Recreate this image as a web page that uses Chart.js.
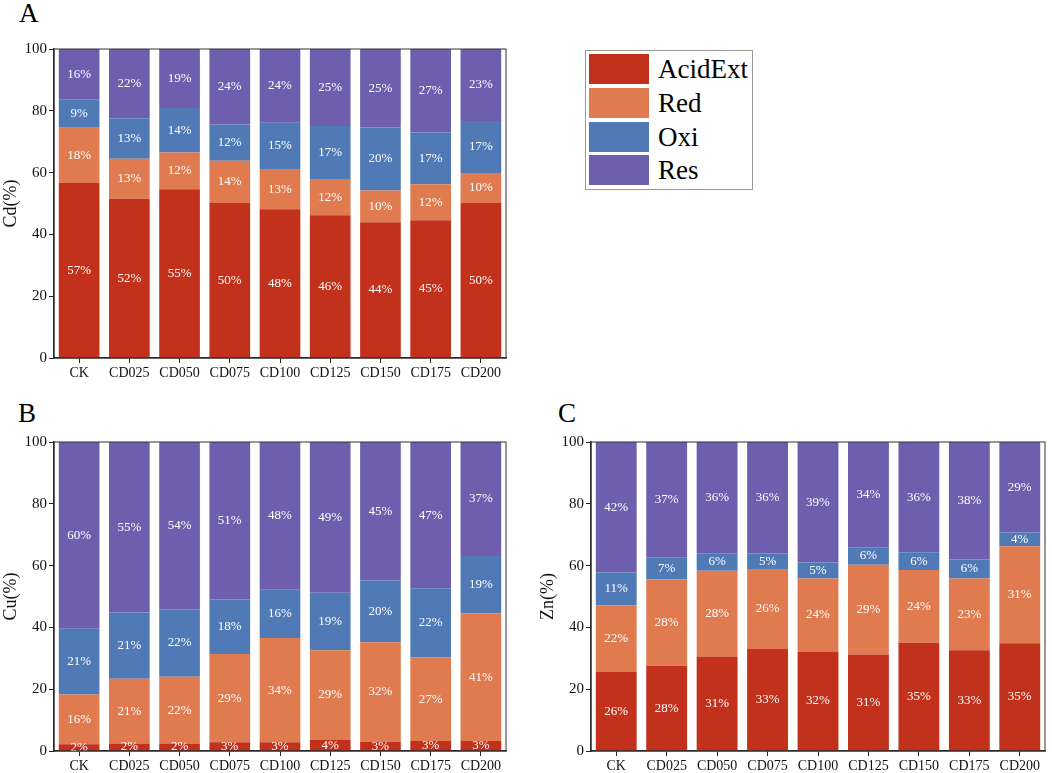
<!DOCTYPE html>
<html>
<head>
<meta charset="utf-8">
<script src="https://cdn.jsdelivr.net/npm/chart.js@4.4.1/dist/chart.umd.min.js"></script>
<style>
body { margin: 0; background: #fff; width: 1052px; height: 773px; position: relative; overflow: hidden; font-family: "Liberation Serif", "Times New Roman", serif; }
.panel { position: absolute; }
.letter { position: absolute; font-size: 27px; line-height: 27px; color: #000; }
#legend { position: absolute; left: 585px; top: 50px; width: 166px; height: 138px; border: 1px solid #999; box-sizing: content-box; }
.row { position: absolute; left: 3px; height: 30px; }
.swatch { position: absolute; left: 0; top: 0; width: 60px; height: 30px; }
.name { position: absolute; left: 69px; top: -1px; font-size: 27px; line-height: 32px; white-space: nowrap; }
</style>
</head>
<body>
<div class="letter" style="left:19px;top:0px">A</div>
<div class="letter" style="left:18px;top:400px">B</div>
<div class="letter" style="left:558px;top:400px">C</div>
<div class="panel" style="left:0;top:0;width:530px;height:390px"><canvas id="cd"></canvas></div>
<div class="panel" style="left:0;top:390px;width:530px;height:383px"><canvas id="cu"></canvas></div>
<div class="panel" style="left:525px;top:390px;width:527px;height:383px"><canvas id="zn"></canvas></div>
<div id="legend"></div>
<script>
const categories = ["CK", "CD025", "CD050", "CD075", "CD100", "CD125", "CD150", "CD175", "CD200"];
const fractions = ["AcidExt", "Red", "Oxi", "Res"];
const colors = ["#c1311b", "#df7b4f", "#4f7ab6", "#6d5eae"];
const yTicks = [0, 20, 40, 60, 80, 100];

// Cd (%)
const cdAcidExt = [56.6, 51.5, 54.6, 50.2, 48.1, 46.2, 43.9, 44.6, 50.2];
const cdRed     = [17.9, 13.0, 11.9, 13.6, 13.1, 11.7, 10.3, 11.6, 9.7];
const cdOxi     = [9.2, 13.1, 14.4, 11.8, 14.9, 17.2, 20.4, 16.8, 16.8];
const cdRes     = [16.3, 22.4, 19.1, 24.4, 23.9, 24.9, 25.4, 27.0, 23.3];

// Cu (%)
const cuAcidExt = [2.2, 2.4, 2.4, 2.8, 2.8, 3.6, 3.0, 3.2, 3.2];
const cuRed     = [16.1, 21.0, 21.6, 28.6, 33.8, 29.0, 32.2, 27.1, 41.3];
const cuOxi     = [21.3, 21.4, 21.9, 17.6, 15.6, 18.6, 20.0, 22.4, 18.6];
const cuRes     = [60.4, 55.2, 54.1, 51.0, 47.8, 48.8, 44.8, 47.3, 36.9];

// Zn (%)
const znAcidExt = [25.6, 27.6, 30.6, 33.0, 32.2, 31.2, 35.0, 32.6, 34.9];
const znRed     = [21.6, 28.0, 27.7, 25.9, 23.6, 29.1, 23.6, 23.2, 31.4];
const znOxi     = [10.6, 7.1, 5.7, 5.0, 5.2, 5.6, 5.7, 6.2, 4.4];
const znRes     = [42.2, 37.3, 36.0, 36.1, 39.0, 34.1, 35.7, 38.0, 29.3];

const serif = '"Liberation Serif", "Times New Roman", serif';

// white % labels in the middle of each segment, plus the box round the plot
const segmentLabels = {
    id: "segmentLabels",
    afterDatasetsDraw(chart) {
        const { ctx, chartArea } = chart;
        ctx.save();
        ctx.beginPath();
        ctx.rect(chartArea.left, chartArea.top, chartArea.width, chartArea.height);
        ctx.clip();
        ctx.fillStyle = "#fff";
        ctx.font = "13px " + serif;
        ctx.textAlign = "center";
        ctx.textBaseline = "middle";
        chart.data.datasets.forEach((ds, i) => {
            chart.getDatasetMeta(i).data.forEach((bar, j) => {
                ctx.fillText(Math.round(ds.data[j]) + "%", bar.x, (bar.y + bar.base) / 2);
            });
        });
        ctx.restore();
    },
    afterDraw(chart) {
        const { ctx, chartArea } = chart;
        ctx.save();
        ctx.strokeStyle = "#333";
        ctx.lineWidth = 1;
        ctx.strokeRect(chartArea.left, chartArea.top, chartArea.width, chartArea.height);
        ctx.restore();
    }
};

function makeChart(id, title, series, o) {
    return new Chart(document.getElementById(id), {
        type: "bar",
        data: {
            labels: categories,
            datasets: series.map((values, i) => ({
                label: fractions[i],
                data: values,
                backgroundColor: colors[i],
                borderWidth: 0,
                categoryPercentage: 0.81,
                barPercentage: 1
            }))
        },
        options: {
            responsive: true,
            maintainAspectRatio: false,
            animation: false,
            layout: { padding: { top: o.top, right: o.right, left: 0, bottom: 0 } },
            plugins: { legend: { display: false }, tooltip: { enabled: false } },
            scales: {
                x: {
                    stacked: true,
                    grid: { offset: false, drawOnChartArea: false, tickLength: 5, color: "#222", lineWidth: 1 },
                    border: { color: "#222", width: 1.5 },
                    ticks: { color: "#111", font: { family: serif, size: 14 }, padding: 2, maxRotation: 0 },
                    afterFit: (s) => { s.height = o.xh; }
                },
                y: {
                    stacked: true,
                    min: 0,
                    max: 100,
                    afterBuildTicks: (s) => { s.ticks = yTicks.map(v => ({ value: v })); },
                    grid: { drawOnChartArea: false, tickLength: 5, color: "#222", lineWidth: 1 },
                    border: { color: "#222", width: 1.5 },
                    ticks: { color: "#111", font: { family: serif, size: 15 }, padding: 2 },
                    title: { display: true, text: title, color: "#111", font: { family: serif, size: 18 }, padding: { top: o.tp, bottom: 0 } },
                    afterFit: (s) => { s.width = o.yw; }
                }
            }
        },
        plugins: [segmentLabels]
    });
}

makeChart("cd", "Cd(%)", [cdAcidExt, cdRed, cdOxi, cdRes], { top: 49, right: 24, xh: 32, yw: 54, tp: 0 });
makeChart("cu", "Cu(%)", [cuAcidExt, cuRed, cuOxi, cuRes], { top: 52, right: 24, xh: 22, yw: 54, tp: 0 });
makeChart("zn", "Zn(%)", [znAcidExt, znRed, znOxi, znRes], { top: 52, right: 7, xh: 22, yw: 66, tp: 12 });

// legend built from the same names and colours
const legend = document.getElementById("legend");
fractions.forEach((name, i) => {
    const row = document.createElement("div");
    row.className = "row";
    row.style.top = (3 + i * 33.8) + "px";
    row.innerHTML = '<div class="swatch" style="background:' + colors[i] + '"></div><div class="name">' + name + "</div>";
    legend.appendChild(row);
});
</script>
</body>
</html>
